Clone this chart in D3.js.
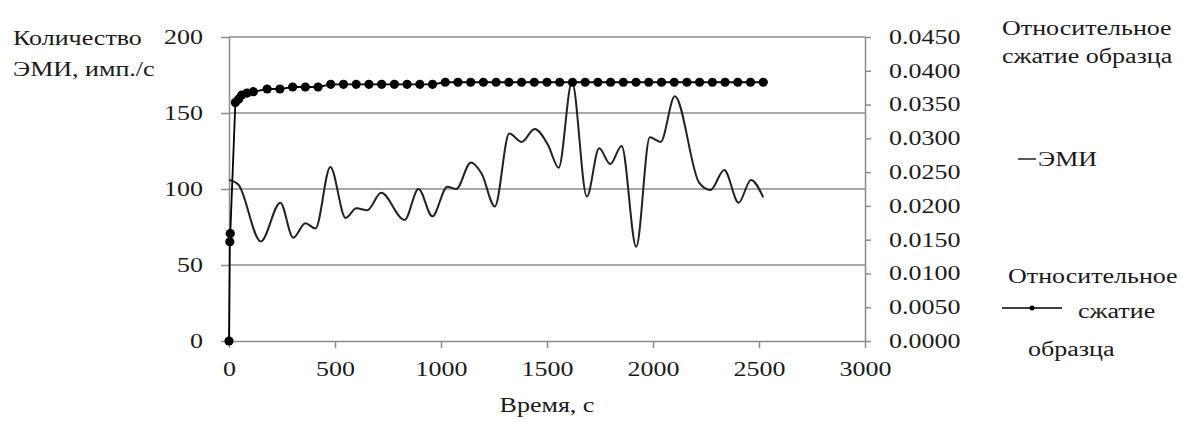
<!DOCTYPE html>
<html>
<head>
<meta charset="utf-8">
<script src="https://cdn.jsdelivr.net/npm/d3@7"></script>
<style>
body { margin:0; background:#fff; }
</style>
</head>
<body>
<div id="chart-area"></div>
<script>
const W = 1194, H = 432;
const margin = {top:37, right:329, bottom:91, left:229};
const width = W - margin.left - margin.right;
const height = H - margin.top - margin.bottom;
const sx = 1.3;   // the original picture is stretched sideways, so is the text
const fontSize = 20;
const fontFamily = "Liberation Serif";
const gridColor = "#8c8c8c";

// ЭМИ, imp/s (left axis)
const emiTime  = [0, 44, 150, 242, 303, 360, 408, 478, 550, 601, 652, 718, 828, 894, 959, 1030, 1072, 1141, 1192, 1254, 1322, 1381, 1441, 1505, 1555, 1618, 1688, 1746, 1798, 1852, 1921, 1985, 2036, 2103, 2218, 2271, 2336, 2404, 2462, 2520];
const emiValue = [106, 103, 65.5, 91, 68, 77.5, 74, 114.5, 81, 87.3, 86, 97.5, 79.6, 100, 82, 101.5, 100, 117.5, 110, 88.5, 136.5, 131, 139.5, 129, 114, 170.5, 95, 126.8, 116.4, 128.3, 62, 134, 131, 161, 104, 99.3, 112.5, 91, 106, 94.5];

// relative compression (right axis)
const strainTime  = [0, 4, 6, 30, 45, 60, 85, 115, 180, 240, 300, 360, 420, 480, 540, 600, 660, 720, 780, 840, 900, 960, 1020, 1080, 1140, 1200, 1260, 1320, 1380, 1440, 1500, 1560, 1620, 1680, 1740, 1800, 1860, 1920, 1980, 2040, 2100, 2160, 2220, 2280, 2340, 2400, 2460, 2520];
const strainValue = [0, 0.0147, 0.0159, 0.0353, 0.0358, 0.0364, 0.0367, 0.0369, 0.0373, 0.0373, 0.0376, 0.0376, 0.0376, 0.0380, 0.0380, 0.0380, 0.0380, 0.0380, 0.0380, 0.0380, 0.0380, 0.0380, 0.0383, 0.0383, 0.0383, 0.0383, 0.0383, 0.0383, 0.0383, 0.0383, 0.0383, 0.0383, 0.0383, 0.0383, 0.0383, 0.0383, 0.0383, 0.0383, 0.0383, 0.0383, 0.0383, 0.0383, 0.0383, 0.0383, 0.0383, 0.0383, 0.0383, 0.0383];

const xTicks = [0, 500, 1000, 1500, 2000, 2500, 3000];
const leftTicks = [0, 50, 100, 150, 200];
const rightTicks = [0, 0.005, 0.010, 0.015, 0.020, 0.025, 0.030, 0.035, 0.040, 0.045];

const svg = d3.select("#chart-area").append("svg")
    .attr("width", W)
    .attr("height", H)
    .style("font-family", fontFamily);

const g = svg.append("g")
    .attr("transform", "translate(" + margin.left + "," + margin.top + ")");

const x = d3.scaleLinear().domain([0, 3000]).range([0, width]);
const yL = d3.scaleLinear().domain([0, 200]).range([height, 0]);
const yR = d3.scaleLinear().domain([0, 0.045]).range([height, 0]);

// widen a text sideways without a transform
function widen(sel) {
    sel.each(function() {
        var len = this.getComputedTextLength();
        d3.select(this)
            .attr("textLength", len * sx)
            .attr("lengthAdjust", "spacingAndGlyphs");
    });
}

// horizontal grid
g.append("g").selectAll("line")
    .data(leftTicks.filter(d => d > 0))
    .enter().append("line")
    .attr("x1", 0).attr("x2", width)
    .attr("y1", d => yL(d)).attr("y2", d => yL(d))
    .attr("stroke", gridColor).attr("stroke-width", 1.5);

function styleAxis(ax) {
    ax.attr("font-family", null).attr("font-size", null);
    ax.select(".domain").attr("stroke", gridColor).attr("stroke-width", 1.5);
    ax.selectAll(".tick line").attr("stroke", gridColor).attr("stroke-width", 1.5);
    ax.selectAll(".tick text")
        .style("font-family", fontFamily)
        .style("font-size", fontSize + "px")
        .attr("fill", "#1a1a1a")
        .call(widen);
}

var axL = g.append("g")
    .call(d3.axisLeft(yL).tickValues(leftTicks).tickSize(8).tickSizeOuter(0).tickPadding(18)
          .tickFormat(d3.format("d")));
styleAxis(axL);

var axR = g.append("g")
    .attr("transform", "translate(" + width + ",0)")
    .call(d3.axisRight(yR).tickValues(rightTicks).tickSize(6).tickSizeOuter(0).tickPadding(18)
          .tickFormat(d3.format(".4f")));
styleAxis(axR);

var axB = g.append("g")
    .attr("transform", "translate(0," + height + ")")
    .call(d3.axisBottom(x).tickValues(xTicks).tickSize(7).tickSizeOuter(0).tickPadding(14)
          .tickFormat(d3.format("d")));
styleAxis(axB);

// ЭМИ smooth line
var emiData = emiTime.map((t, i) => [t, emiValue[i]]);
g.append("path")
    .datum(emiData)
    .attr("fill", "none")
    .attr("stroke", "#222")
    .attr("stroke-width", 2)
    .attr("d", d3.line().x(d => x(d[0])).y(d => yL(d[1])).curve(d3.curveMonotoneX));

// compression line with markers
var strainData = strainTime.map((t, i) => [t, strainValue[i]]);
g.append("path")
    .datum(strainData)
    .attr("fill", "none")
    .attr("stroke", "#000")
    .attr("stroke-width", 1.8)
    .attr("d", d3.line().x(d => x(d[0])).y(d => yR(d[1])));

g.append("g").selectAll("circle")
    .data(strainData)
    .enter().append("circle")
    .attr("cx", d => x(d[0]))
    .attr("cy", d => yR(d[1]))
    .attr("r", 4.6)
    .attr("fill", "#000");

function label(px, py, txt, anchor) {
    svg.append("text")
        .attr("x", px).attr("y", py)
        .style("font-family", fontFamily)
        .style("font-size", fontSize + "px")
        .attr("fill", "#1a1a1a")
        .attr("text-anchor", anchor || "start")
        .text(txt)
        .call(widen);
}

label(13, 45, "Количество");
label(13, 76, "ЭМИ, имп./с");
label(margin.left + width / 2, 412, "Время, с", "middle");
label(1002, 35, "Относительное");
label(1002, 63, "сжатие образца");

// legend
svg.append("line")
    .attr("x1", 1018).attr("x2", 1036).attr("y1", 159).attr("y2", 159)
    .attr("stroke", "#222").attr("stroke-width", 1.5);
label(1038, 166, "ЭМИ");

label(1008, 283, "Относительное");
svg.append("line")
    .attr("x1", 1002).attr("x2", 1062).attr("y1", 308).attr("y2", 308)
    .attr("stroke", "#000").attr("stroke-width", 1.5);
svg.append("circle")
    .attr("cx", 1032).attr("cy", 308).attr("r", 2.5).attr("fill", "#000");
label(1078, 318, "сжатие");
label(1028, 356, "образца");
</script>
</body>
</html>
